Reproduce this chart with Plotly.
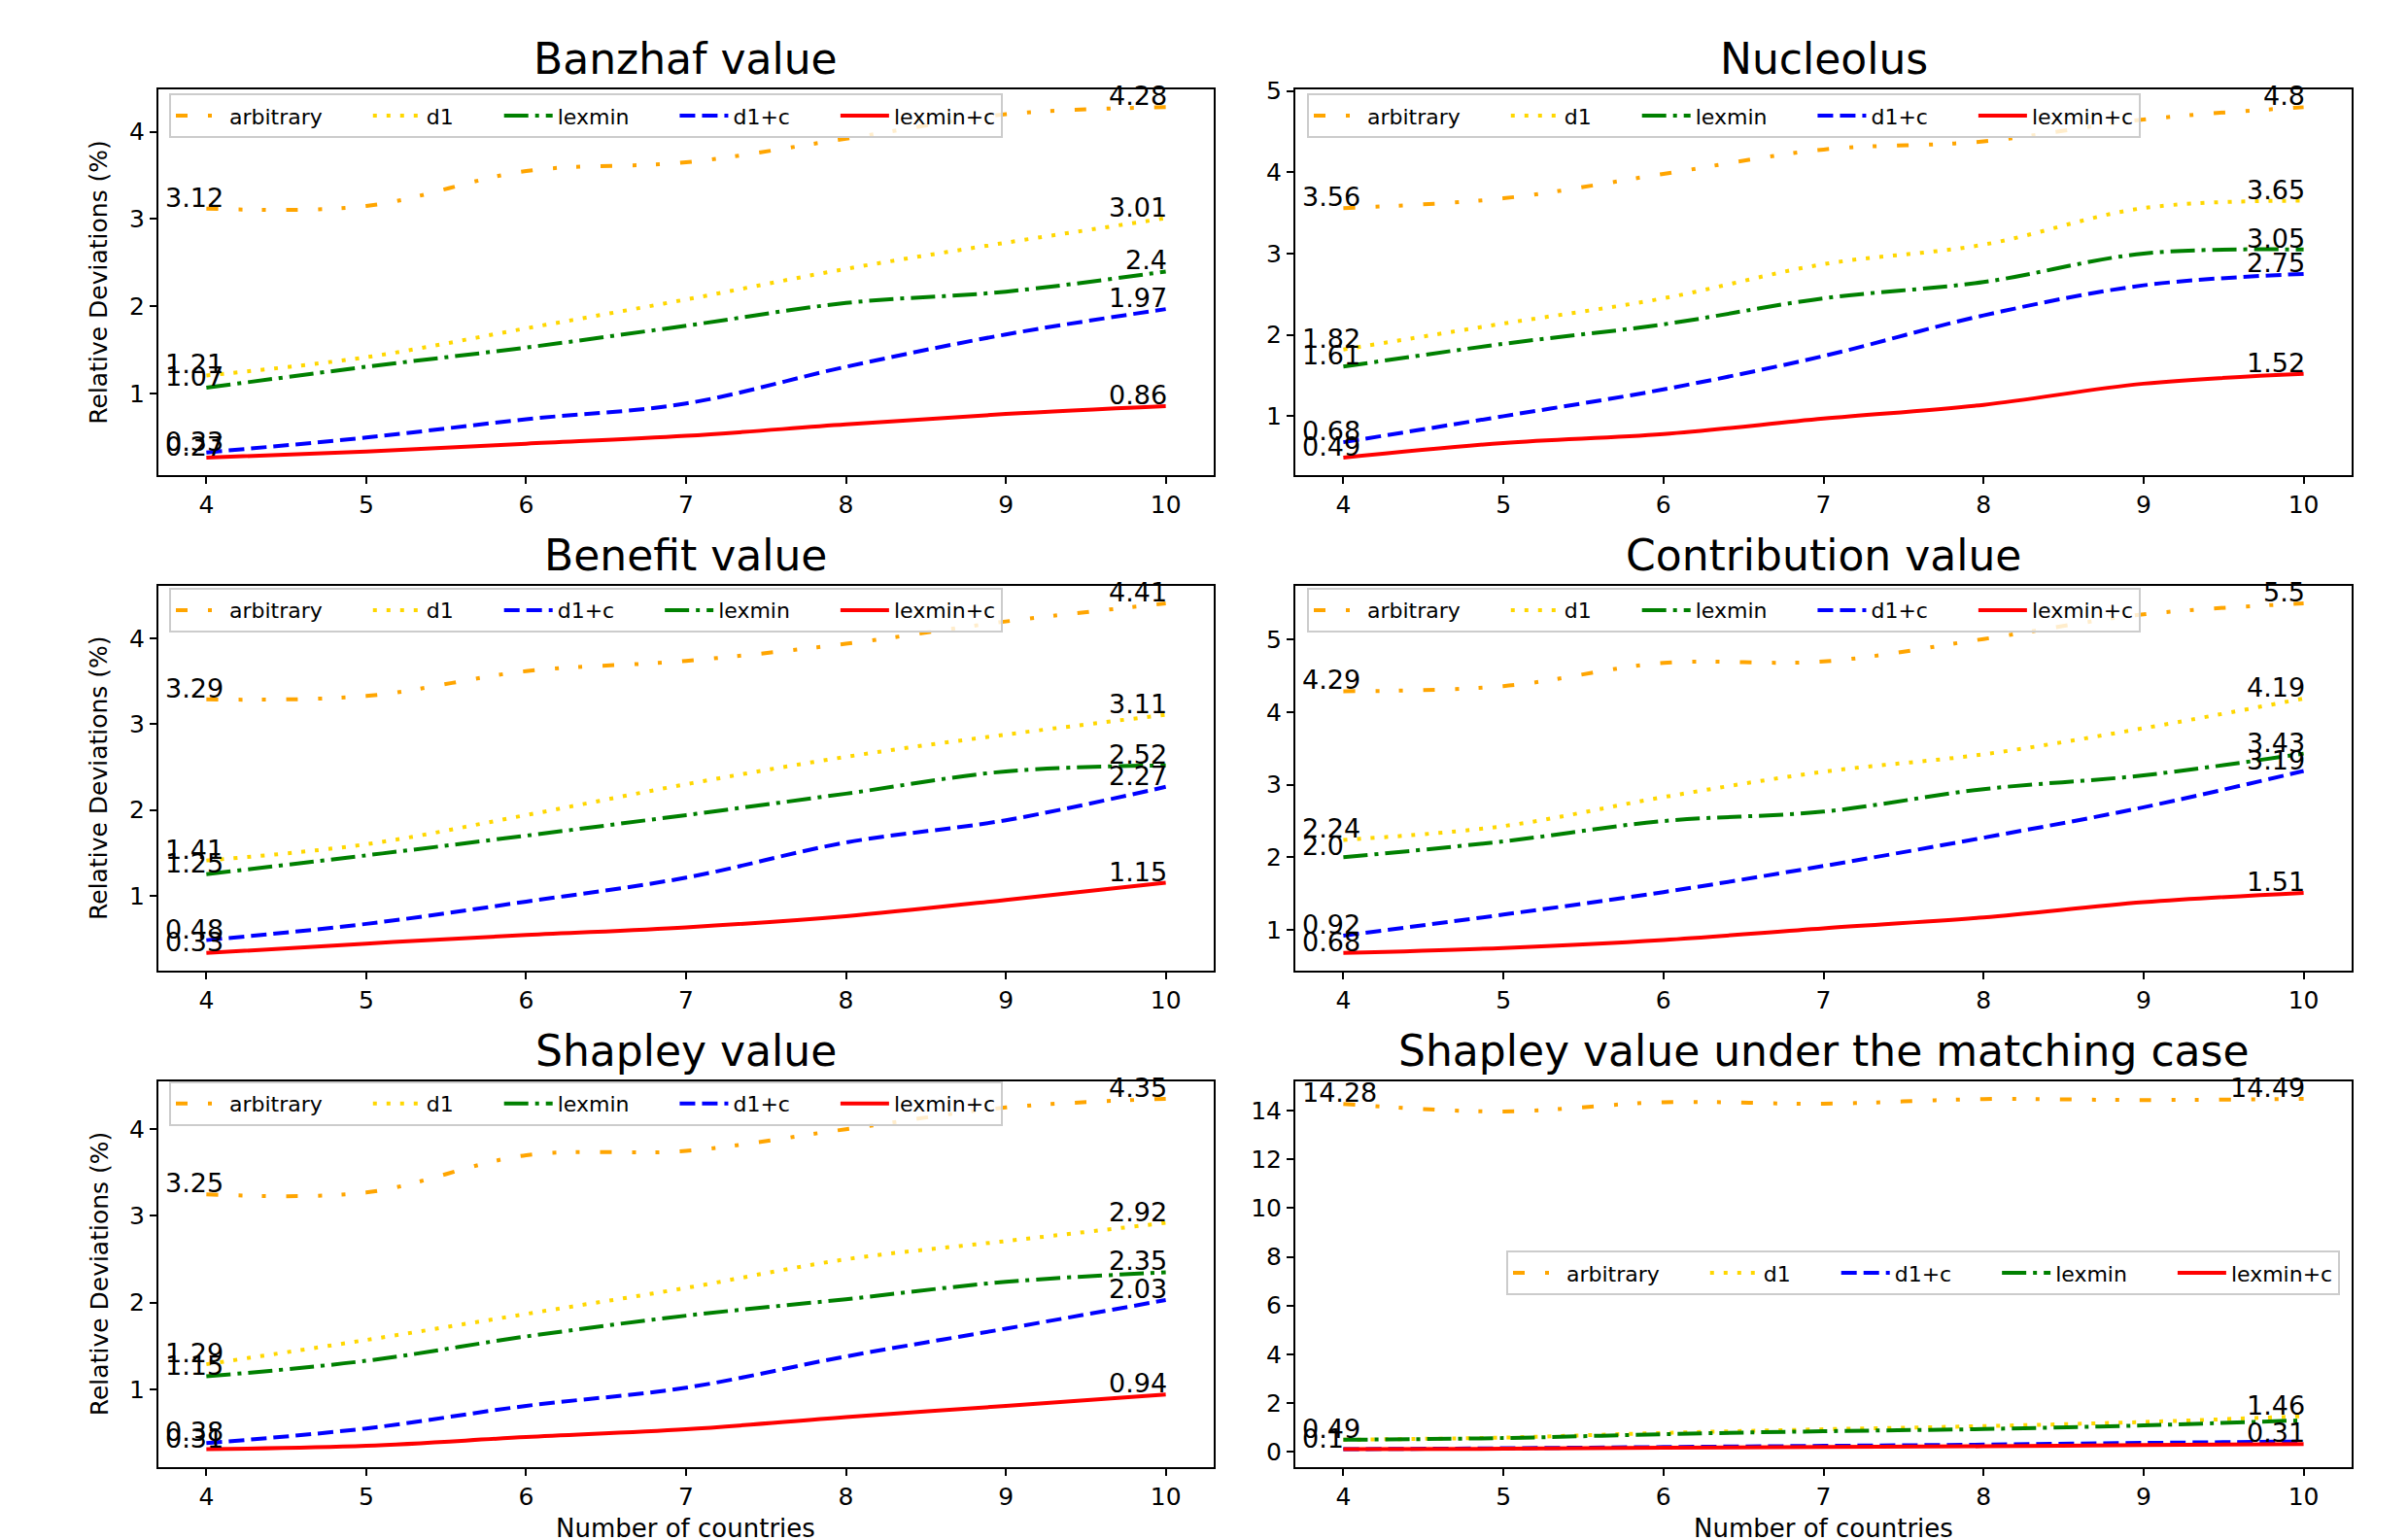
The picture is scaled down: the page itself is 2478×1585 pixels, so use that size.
import plotly.graph_objects as go

# ---------------- data ----------------
countries = [4, 5, 6, 7, 8, 9, 10]

banzhaf_arbitrary = [3.12, 3.15, 3.55, 3.65, 3.92, 4.20, 4.28]
banzhaf_d1 = [1.21, 1.42, 1.75, 2.08, 2.43, 2.73, 3.01]
banzhaf_lexmin = [1.07, 1.31, 1.53, 1.78, 2.04, 2.17, 2.40]
banzhaf_d1c = [0.33, 0.50, 0.71, 0.89, 1.31, 1.68, 1.97]
banzhaf_lexminc = [0.27, 0.34, 0.43, 0.52, 0.65, 0.77, 0.86]

nucleolus_arbitrary = [3.56, 3.68, 3.98, 4.28, 4.38, 4.65, 4.80]
nucleolus_d1 = [1.82, 2.14, 2.45, 2.87, 3.11, 3.56, 3.65]
nucleolus_lexmin = [1.61, 1.89, 2.13, 2.45, 2.65, 3.00, 3.05]
nucleolus_d1c = [0.68, 1.00, 1.33, 1.74, 2.24, 2.61, 2.75]
nucleolus_lexminc = [0.49, 0.67, 0.78, 0.97, 1.14, 1.40, 1.52]

benefit_arbitrary = [3.29, 3.33, 3.62, 3.74, 3.94, 4.20, 4.41]
benefit_d1 = [1.41, 1.60, 1.94, 2.30, 2.62, 2.88, 3.11]
benefit_lexmin = [1.25, 1.47, 1.70, 1.94, 2.19, 2.45, 2.52]
benefit_d1c = [0.48, 0.67, 0.93, 1.21, 1.62, 1.88, 2.27]
benefit_lexminc = [0.33, 0.44, 0.54, 0.63, 0.76, 0.95, 1.15]

contribution_arbitrary = [4.29, 4.36, 4.68, 4.70, 5.01, 5.35, 5.50]
contribution_d1 = [2.24, 2.43, 2.83, 3.18, 3.42, 3.78, 4.19]
contribution_lexmin = [2.00, 2.22, 2.50, 2.63, 2.94, 3.13, 3.43]
contribution_d1c = [0.92, 1.21, 1.52, 1.88, 2.27, 2.69, 3.19]
contribution_lexminc = [0.68, 0.75, 0.86, 1.02, 1.17, 1.38, 1.51]

shapley_arbitrary = [3.25, 3.27, 3.70, 3.75, 4.00, 4.25, 4.35]
shapley_d1 = [1.29, 1.57, 1.87, 2.17, 2.50, 2.71, 2.92]
shapley_lexmin = [1.15, 1.33, 1.61, 1.85, 2.04, 2.24, 2.35]
shapley_d1c = [0.38, 0.55, 0.81, 1.02, 1.38, 1.70, 2.03]
shapley_lexminc = [0.31, 0.35, 0.45, 0.54, 0.68, 0.81, 0.94]

matching_arbitrary = [14.28, 13.97, 14.35, 14.29, 14.48, 14.44, 14.49]
matching_d1 = [0.49, 0.58, 0.77, 0.92, 1.05, 1.22, 1.46]
matching_lexmin = [0.49, 0.56, 0.72, 0.84, 0.93, 1.08, 1.29]
matching_d1c = [0.10, 0.14, 0.19, 0.24, 0.29, 0.36, 0.42]
matching_lexminc = [0.10, 0.12, 0.16, 0.19, 0.22, 0.27, 0.31]

titles = ["Banzhaf value", "Nucleolus", "Benefit value",
          "Contribution value", "Shapley value",
          "Shapley value under the matching case"]
y_ticks = [[1, 2, 3, 4], [1, 2, 3, 4, 5], [1, 2, 3, 4],
           [1, 2, 3, 4, 5], [1, 2, 3, 4], [0, 2, 4, 6, 8, 10, 12, 14]]
x_title = "Number of countries"
y_title = "Relative Deviations (%)"

# ---------------- styles ----------------
FONT = "DejaVu Sans"
LW = 4
styles = {
    "arbitrary": dict(color="#FFA500", dash="12px,21px,4px,20px,4px,21px"),
    "d1": dict(color="#FFD700", dash="4px,10px"),
    "lexmin": dict(color="#008000", dash="25px,7px,4px,7px"),
    "d1+c": dict(color="#0000FF", dash="16px,7px"),
    "lexmin+c": dict(color="#FF0000", dash="solid"),
}

order_a = ["arbitrary", "d1", "lexmin", "d1+c", "lexmin+c"]
order_b = ["arbitrary", "d1", "d1+c", "lexmin", "lexmin+c"]
all_labels = {n: (True, True) for n in order_a}

panels = [
    dict(series={"arbitrary": banzhaf_arbitrary, "d1": banzhaf_d1, "lexmin": banzhaf_lexmin,
                 "d1+c": banzhaf_d1c, "lexmin+c": banzhaf_lexminc}, order=order_a, labels=all_labels),
    dict(series={"arbitrary": nucleolus_arbitrary, "d1": nucleolus_d1, "lexmin": nucleolus_lexmin,
                 "d1+c": nucleolus_d1c, "lexmin+c": nucleolus_lexminc}, order=order_a, labels=all_labels),
    dict(series={"arbitrary": benefit_arbitrary, "d1": benefit_d1, "lexmin": benefit_lexmin,
                 "d1+c": benefit_d1c, "lexmin+c": benefit_lexminc}, order=order_b, labels=all_labels),
    dict(series={"arbitrary": contribution_arbitrary, "d1": contribution_d1, "lexmin": contribution_lexmin,
                 "d1+c": contribution_d1c, "lexmin+c": contribution_lexminc}, order=order_a, labels=all_labels),
    dict(series={"arbitrary": shapley_arbitrary, "d1": shapley_d1, "lexmin": shapley_lexmin,
                 "d1+c": shapley_d1c, "lexmin+c": shapley_lexminc}, order=order_a, labels=all_labels),
    dict(series={"arbitrary": matching_arbitrary, "d1": matching_d1, "lexmin": matching_lexmin,
                 "d1+c": matching_d1c, "lexmin+c": matching_lexminc}, order=order_b,
         labels={"arbitrary": (True, True), "d1": (False, True), "lexmin": (True, False),
                 "d1+c": (False, False), "lexmin+c": (True, True)}),
]

# ---------------- layout geometry (pixels) ----------------
W, H = 2478, 1585
col_px = [(163, 1249), (1333, 2420)]
row_px = [(80, 480), (595, 994), (1109, 1509)]
legend_px = [(174, 84, "left", "top"), (1345, 84, "left", "top"),
             (174, 597, "left", "top"), (1345, 597, "left", "top"),
             (174, 1109, "left", "top"), (2408, 1308, "right", "middle")]
PADNAME = "\u00a0" * 6


def fmt(v):
    return str(round(float(v), 2))


fig = go.Figure()
annotations = []
layout = dict(width=W, height=H, margin=dict(l=0, r=0, t=0, b=0),
              plot_bgcolor="white", paper_bgcolor="white",
              font=dict(family=FONT, color="black"), showlegend=True)

for i, p in enumerate(panels):
    r, c = divmod(i, 2)
    ax = "" if i == 0 else str(i + 1)
    xa, ya = "x" + ax, "y" + ax
    lg = "legend" if i == 0 else "legend" + str(i + 1)
    x0, x1 = col_px[c]
    y0, y1 = row_px[r]
    allv = [v for s in p["series"].values() for v in s]
    lo, hi = min(allv), max(allv)
    pad = 0.05 * (hi - lo)
    layout["xaxis" + ax] = dict(
        domain=[x0 / W, x1 / W], anchor=ya, range=[3.7, 10.3],
        tickmode="array", tickvals=countries, ticktext=[str(v) for v in countries],
        showline=True, mirror=True, linecolor="black", linewidth=2,
        ticks="outside", ticklen=7, tickwidth=2, tickcolor="black",
        showgrid=False, zeroline=False, tickfont=dict(size=25, family=FONT))
    layout["yaxis" + ax] = dict(
        domain=[1 - y1 / H, 1 - y0 / H], anchor=xa, range=[lo - pad, hi + pad],
        tickmode="array", tickvals=y_ticks[i], ticktext=[str(v) for v in y_ticks[i]],
        showline=True, mirror=True, linecolor="black", linewidth=2,
        ticks="outside", ticklen=7, tickwidth=2, tickcolor="black",
        showgrid=False, zeroline=False, tickfont=dict(size=25, family=FONT))
    lx, ly, lxa, lya = legend_px[i]
    layout[lg] = dict(x=lx / W, y=1 - ly / H, xanchor=lxa, yanchor=lya,
                      xref="paper", yref="paper", orientation="h",
                      font=dict(size=22, family=FONT), itemwidth=50,
                      bgcolor="rgba(255,255,255,0.8)", bordercolor="#cccccc",
                      borderwidth=2, traceorder="normal")
    for k, name in enumerate(p["order"]):
        st = styles[name]
        label = name if k == len(p["order"]) - 1 else name + PADNAME
        fig.add_trace(go.Scatter(
            x=countries, y=p["series"][name], mode="lines", name=label,
            xaxis=xa, yaxis=ya, legend=lg,
            line=dict(color=st["color"], dash=st["dash"], width=LW,
                      shape="spline", smoothing=1.0)))
    # data labels
    for name in order_a:
        vals = p["series"][name]
        show_first, show_last = p["labels"][name]
        if show_first:
            annotations.append(dict(x=countries[0] - 0.27, y=vals[0], xref=xa, yref=ya,
                                    text=fmt(vals[0]), showarrow=False,
                                    xanchor="left", yanchor="bottom", yshift=-6,
                                    font=dict(size=27, family=FONT, color="black")))
        if show_last:
            annotations.append(dict(x=countries[-1], y=vals[-1], xref=xa, yref=ya,
                                    text=fmt(vals[-1]), showarrow=False,
                                    xanchor="right", yanchor="bottom", xshift=3,
                                    yshift=-6, font=dict(size=27, family=FONT, color="black")))
    # title
    annotations.append(dict(x=(x0 + x1) / 2 / W, y=1 - y0 / H, xref="paper", yref="paper",
                            text=titles[i], showarrow=False, xanchor="center",
                            yanchor="bottom", yshift=4,
                            font=dict(size=44, family=FONT, color="black")))
    if c == 0:
        annotations.append(dict(x=102 / W, y=1 - (y0 + y1) / 2 / H, xref="paper", yref="paper",
                                text=y_title, textangle=-90, showarrow=False,
                                xanchor="center", yanchor="middle",
                                font=dict(size=25, family=FONT, color="black")))
    if r == 2:
        annotations.append(dict(x=(x0 + x1) / 2 / W, y=1 - 1573 / H, xref="paper", yref="paper",
                                text=x_title, showarrow=False, xanchor="center",
                                yanchor="middle", font=dict(size=26, family=FONT, color="black")))

layout["annotations"] = annotations
fig.update_layout(**layout)
fig.write_html("out.html", config={"displayModeBar": False},
               post_script="document.body.style.margin='0px';document.body.style.overflow='hidden';")
